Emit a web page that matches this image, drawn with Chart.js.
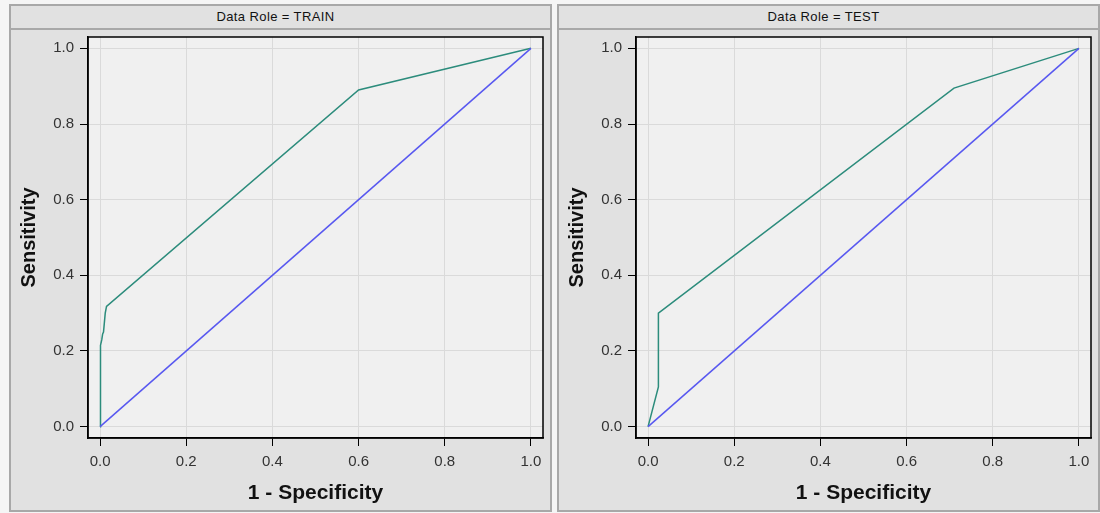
<!DOCTYPE html>
<html>
<head>
<meta charset="utf-8">
<title>ROC Curves</title>
<script src="https://cdn.jsdelivr.net/npm/chart.js@4.4.1/dist/chart.umd.min.js"></script>
<style>
    body {
        margin: 0;
        background: #f5f5f5;
        font-family: Arial, "Liberation Sans", sans-serif;
    }
    .panel {
        position: absolute;
        top: 4px;
        width: 543px;
        height: 508px;
        box-sizing: border-box;
        border: 2px solid #a8a8a8;
        background: #e1e1e1;
    }
    .panel-head {
        height: 22px;
        line-height: 22px;
        padding-right: 10px;
        border-bottom: 2px solid #a8a8a8;
        text-align: center;
        font-size: 13px;
        letter-spacing: 0.4px;
        color: #111;
    }
    .panel-body {
        position: relative;
        width: 539px;
        height: 480px;
    }
</style>
</head>
<body>
<div class="panel" style="left: 9px;">
    <div class="panel-head" id="head0"></div>
    <div class="panel-body"><canvas id="roc0"></canvas></div>
</div>
<div class="panel" style="left: 557px;">
    <div class="panel-head" id="head1"></div>
    <div class="panel-body"><canvas id="roc1"></canvas></div>
</div>
<script>
const panelTitles = ["Data Role = TRAIN", "Data Role = TEST"];

// ROC curve points (1 - specificity, sensitivity)
const trainFpr = [0, 0, 0.002, 0.004, 0.006, 0.008, 0.012, 0.015, 0.6, 1.0];
const trainTpr = [0, 0.20, 0.215, 0.23, 0.245, 0.25, 0.30, 0.318, 0.89, 1.0];
const testFpr = [0, 0.024, 0.024, 0.71, 1.0];
const testTpr = [0, 0.105, 0.30, 0.895, 1.0];

// reference diagonal
const diagFpr = [0, 1];
const diagTpr = [0, 1];

const tickValues = [0, 0.2, 0.4, 0.6, 0.8, 1.0];

// a little room around 0 and 1 on both axes
const xPad = 0.028;
const yPad = 0.03;

const plotFrame = {
    id: "plotFrame",
    beforeDraw(chart) {
        const a = chart.chartArea;
        const ctx = chart.ctx;
        ctx.save();
        ctx.fillStyle = "#f0f0f0";
        ctx.fillRect(a.left, a.top, a.right - a.left, a.bottom - a.top);
        ctx.restore();
    },
    afterDraw(chart) {
        const a = chart.chartArea;
        const ctx = chart.ctx;
        ctx.save();
        ctx.strokeStyle = "#000";
        ctx.lineWidth = 1.5;
        ctx.strokeRect(a.left, a.top, a.right - a.left, a.bottom - a.top);
        ctx.restore();
    }
};

function toPoints(xs, ys) {
    return xs.map((x, i) => ({ x: x, y: ys[i] }));
}

function axisOptions(title, isX) {
    const pad = isX ? xPad : yPad;
    return {
        type: "linear",
        min: -pad,
        max: 1 + pad,
        afterBuildTicks: function (scale) {
            scale.ticks = tickValues.map(v => ({ value: v }));
        },
        afterFit: function (scale) {
            // the ticks sit inside the frame, so no room is needed for label overhang
            if (isX) {
                scale.height = 72;
                scale.paddingLeft = 0;
                scale.paddingRight = 0;
            } else {
                scale.width = 77;
                scale.paddingTop = 0;
                scale.paddingBottom = 0;
            }
        },
        grid: {
            color: "#dadada",
            lineWidth: 1,
            tickColor: "#000",
            tickLength: 8,
            tickWidth: 1
        },
        border: { display: true, color: "#000", width: 1.5 },
        ticks: {
            color: "#333",
            padding: isX ? 7 : 6,
            font: { size: 15, family: "Arial, 'Liberation Sans', sans-serif" },
            callback: v => Number(v).toFixed(1)
        },
        title: {
            display: true,
            text: title,
            color: "#111",
            padding: isX ? { bottom: 4 } : { top: 6 },
            font: { size: isX ? 21 : 20, weight: "bold", family: "Arial, 'Liberation Sans', sans-serif" }
        }
    };
}

function createChart(canvasId, fpr, tpr) {
    new Chart(canvasId, {
        type: "scatter",
        data: {
            datasets: [
                {
                    data: toPoints(diagFpr, diagTpr),
                    showLine: true,
                    borderColor: "#5858f0",
                    borderWidth: 1.5,
                    pointRadius: 0
                },
                {
                    data: toPoints(fpr, tpr),
                    showLine: true,
                    borderColor: "#2c8c7c",
                    borderWidth: 1.5,
                    pointRadius: 0
                }
            ]
        },
        options: {
            responsive: true,
            maintainAspectRatio: false,
            animation: false,
            layout: { padding: { top: 7, right: 7, left: 0, bottom: 0 } },
            plugins: {
                legend: { display: false },
                tooltip: { enabled: false }
            },
            scales: {
                x: axisOptions("1 - Specificity", true),
                y: axisOptions("Sensitivity", false)
            }
        },
        plugins: [plotFrame]
    });
}

document.getElementById("head0").textContent = panelTitles[0];
document.getElementById("head1").textContent = panelTitles[1];
createChart("roc0", trainFpr, trainTpr);
createChart("roc1", testFpr, testTpr);
</script>
</body>
</html>
